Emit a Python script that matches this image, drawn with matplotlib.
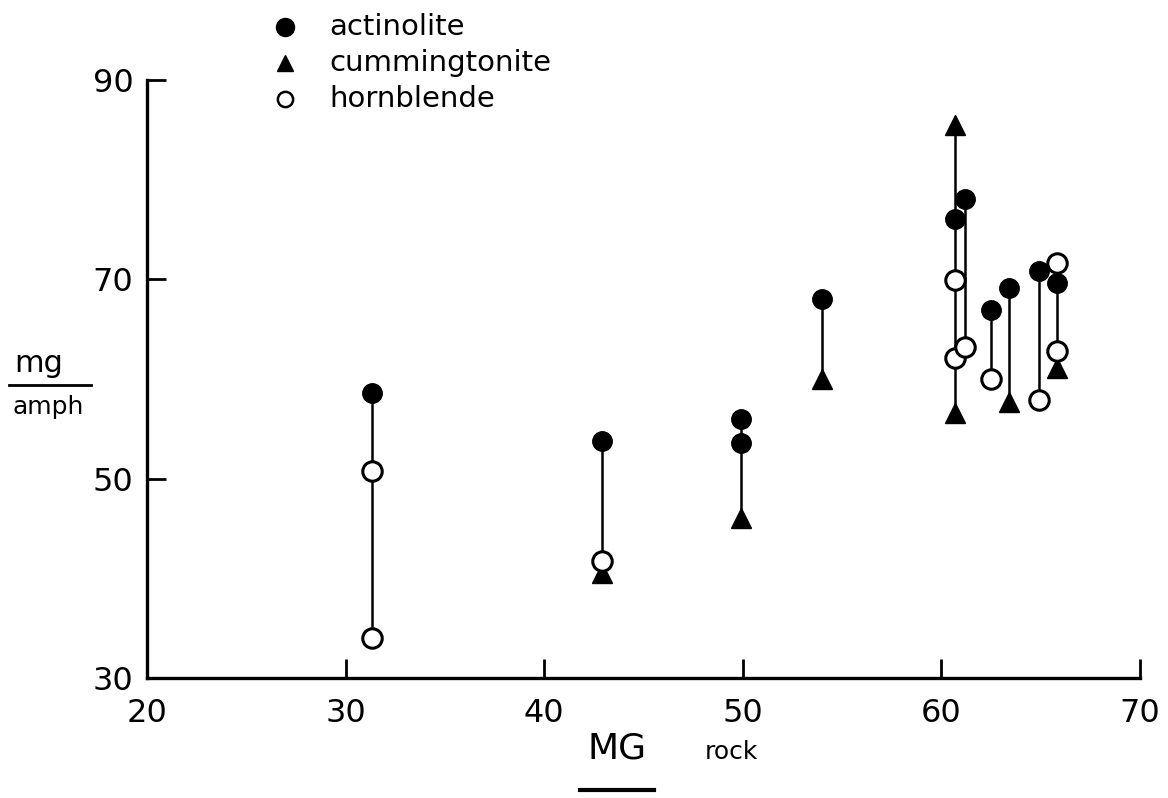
import matplotlib
matplotlib.use('Agg')
import matplotlib.pyplot as plt

# values (MG rock vs mg amph)
act_x = [31.3, 42.9, 49.9, 49.9, 54.0, 60.7, 61.2, 62.5, 63.4, 64.9, 65.8]
act_y = [58.6, 53.8, 56.0, 53.6, 68.0, 76.0, 78.1, 66.9, 69.1, 70.8, 69.6]

cum_x = [42.9, 49.9, 54.0, 60.7, 60.7, 63.4, 65.8]
cum_y = [40.6, 46.1, 60.0, 85.5, 56.6, 57.7, 61.1]

hbl_x = [31.3, 31.3, 42.9, 60.7, 60.7, 61.2, 62.5, 64.9, 65.8, 65.8]
hbl_y = [50.8, 34.0, 41.8, 69.9, 62.1, 63.2, 60.0, 57.9, 71.6, 62.8]

legend_labels = ['actinolite', 'cummingtonite', 'hornblende']
x_ticks = [20, 30, 40, 50, 60, 70]
y_ticks = [30, 50, 70, 90]

plt.rcParams['font.family'] = ['DejaVu Sans']

fig = plt.figure(figsize=(11.68, 7.98), dpi=100)
ax = fig.add_axes([0.126, 0.150, 0.850, 0.750])

# tie lines: join all minerals analysed in the same rock
all_x = act_x + cum_x + hbl_x
all_y = act_y + cum_y + hbl_y
for sx in sorted(set(all_x)):
    ys = [y for x, y in zip(all_x, all_y) if x == sx]
    if len(ys) > 1:
        ax.plot([sx, sx], [min(ys), max(ys)], color='black', lw=1.8, zorder=1)

ax.plot(act_x, act_y, 'o', ms=14, color='black', zorder=3)
ax.plot(cum_x, cum_y, '^', ms=14, color='black', zorder=3)
ax.plot(hbl_x, hbl_y, 'o', ms=14, mfc='white', mec='black', mew=2.2, zorder=4)

ax.set_xlim(20, 70)
ax.set_ylim(30, 90)
ax.set_xticks(x_ticks)
ax.set_yticks(y_ticks)
for s in ['top', 'right']:
    ax.spines[s].set_visible(False)
for s in ['left', 'bottom']:
    ax.spines[s].set_linewidth(2.4)
ax.tick_params(direction='in', length=14, width=2, labelsize=23)
ax.tick_params(axis='x', pad=14)
ax.tick_params(axis='y', pad=10)

# axis titles with underline
fig.text(0.033, 0.545, 'mg', fontsize=22, ha='center', va='center')
fig.lines.append(plt.Line2D([0.008, 0.078], [0.518, 0.518], transform=fig.transFigure,
                            color='black', lw=2))
fig.text(0.041, 0.490, 'amph', fontsize=18, ha='center', va='center')

fig.text(0.528, 0.062, 'MG', fontsize=26, ha='center', va='center')
fig.lines.append(plt.Line2D([0.497, 0.560], [0.010, 0.010], transform=fig.transFigure,
                            color='black', lw=3))
fig.text(0.603, 0.058, 'rock', fontsize=18, ha='left', va='center')

# legend drawn by hand at the top
markers = [dict(marker='o', ms=13, color='black'),
           dict(marker='^', ms=11, color='black'),
           dict(marker='o', ms=11, mfc='white', mec='black', mew=1.8)]
for i, (lab, mk) in enumerate(zip(legend_labels, markers)):
    yy = 0.966 - i * 0.045
    fig.lines.append(plt.Line2D([0.244], [yy], transform=fig.transFigure, ls='none', **mk))
    fig.text(0.282, yy, lab, fontsize=21, ha='left', va='center')

plt.savefig('out.png', dpi=100)
